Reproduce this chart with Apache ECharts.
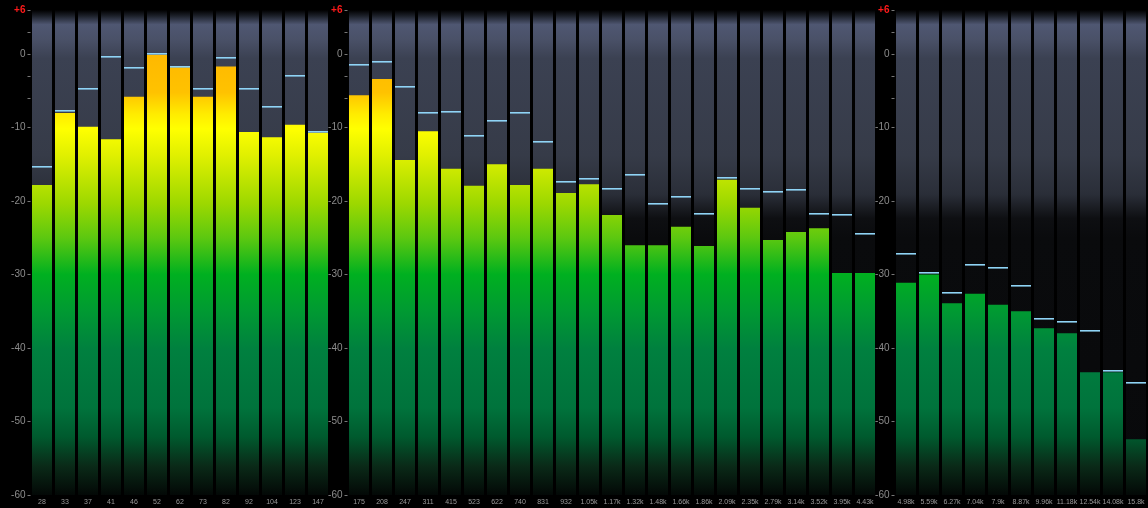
<!DOCTYPE html>
<html>
<head>
<meta charset="utf-8">
<script src="https://cdn.jsdelivr.net/npm/echarts@6/dist/echarts.min.js"></script>
<style>
html,body{margin:0;padding:0;background:#000;}
#chart{width:1148px;height:508px;}
</style>
</head>
<body>
<div id="chart"></div>
<script>
// ---- data ----
const cats1 = ['28','33','37','41','46','52','62','73','82','92','104','123','147'];
const levels1 = [-17.8,-8.0,-9.9,-11.6,-5.8,-0.1,-1.8,-5.8,-1.7,-10.6,-11.3,-9.6,-10.7];
const peaks1  = [-15.3,-7.8,-4.8,-0.4,-1.9,0.0,-1.7,-4.8,-0.5,-4.8,-7.2,-3.0,-10.6];

const cats2 = ['175','208','247','311','415','523','622','740','831','932','1.05k','1.17k','1.32k','1.48k','1.66k','1.86k','2.09k','2.35k','2.79k','3.14k','3.52k','3.95k','4.43k'];
const levels2 = [-5.6,-3.4,-14.4,-10.5,-15.6,-17.9,-15.0,-17.8,-15.6,-18.9,-17.7,-21.9,-26.0,-26.0,-23.5,-26.1,-17.1,-20.9,-25.3,-24.2,-23.7,-29.8,-29.8];
const peaks2  = [-1.5,-1.1,-4.5,-8.0,-7.9,-11.1,-9.1,-8.0,-11.9,-17.4,-17.0,-18.4,-16.4,-20.4,-19.5,-21.7,-16.9,-18.4,-18.7,-18.5,-21.7,-21.9,-24.5];

const cats3 = ['4.98k','5.59k','6.27k','7.04k','7.9k','8.87k','9.96k','11.18k','12.54k','14.08k','15.8k'];
const levels3 = [-31.1,-30.0,-33.9,-32.6,-34.1,-35.0,-37.3,-38.0,-43.3,-43.3,-52.4];
const peaks3  = [-27.2,-29.8,-32.5,-28.7,-29.1,-31.6,-36.1,-36.5,-37.7,-43.1,-44.8];

const yLabelValues = [6,0,-10,-20,-30,-40,-50,-60];
const yTickValues = [6,3,0,-3,-6,-10,-20,-30,-40,-50,-60];
const yMax = 6, yMin = -60;

// ---- styling ----
const barStops = [
  {offset:0, color:'#ffb000'},
  {offset:0.09, color:'#ffb800'},
  {offset:0.17, color:'#ffc200'},
  {offset:0.215, color:'#ffec00'},
  {offset:0.245, color:'#ffff00'},
  {offset:0.30, color:'#e0f000'},
  {offset:0.40, color:'#9cd800'},
  {offset:0.47, color:'#5cc810'},
  {offset:0.545, color:'#00b020'},
  {offset:0.62, color:'#009a32'},
  {offset:0.70, color:'#00803f'},
  {offset:0.82, color:'#00733c'},
  {offset:0.88, color:'#005a2e'},
  {offset:0.94, color:'#0a2a18'},
  {offset:1, color:'#030806'}
];
const bgStops = [
  {offset:0, color:'#000000'},
  {offset:0.012, color:'#1c2029'},
  {offset:0.03, color:'#4f5772'},
  {offset:0.06, color:'#4a5168'},
  {offset:0.10, color:'#3b4152'},
  {offset:0.30, color:'#363b48'},
  {offset:0.38, color:'#2a2e38'},
  {offset:0.43, color:'#0e0f12'},
  {offset:0.47, color:'#0a0b0d'},
  {offset:1, color:'#08090b'}
];

function renderItem(params, api){
  const idx = api.value(0), lvl = api.value(1), pk = api.value(2);
  const pTop = api.coord([idx, yMax]);
  const pBase = api.coord([idx, yMin]);
  const pLvl = api.coord([idx, lvl]);
  const pPk = api.coord([idx, pk]);
  const w = Math.round(api.size([1,0])[0]) - 3;
  const x = Math.round(pTop[0] - w/2);
  const yT = pTop[1], yB = pBase[1];
  return {
    type:'group',
    children:[
      {type:'rect', shape:{x:x, y:yT, width:w, height:yB-yT},
       style:{fill:{type:'linear', x:0, y:yT, x2:0, y2:yB, global:true, colorStops:bgStops}}},
      {type:'rect', shape:{x:x, y:pLvl[1], width:w, height:yB-pLvl[1]},
       style:{fill:{type:'linear', x:0, y:yT, x2:0, y2:yB, global:true, colorStops:barStops}}},
      {type:'rect', shape:{x:x, y:Math.round(pPk[1])-1, width:w, height:1.6},
       style:{fill:'#8fd4f6'}}
    ]
  };
}

const grids = [
  {left:30.5, top:10, width:299, height:485},
  {left:347.5, top:10, width:529, height:485},
  {left:894.5, top:10, width:253, height:485}
];
const catsAll = [cats1, cats2, cats3];
const levelsAll = [levels1, levels2, levels3];
const peaksAll = [peaks1, peaks2, peaks3];

const xAxes = [], yAxes = [], series = [];
for (let g = 0; g < 3; g++) {
  xAxes.push({
    type:'category', gridIndex:g, data:catsAll[g],
    axisLine:{show:false}, axisTick:{show:false}, splitLine:{show:false},
    axisLabel:{color:'#9a9a9a', fontSize:7, fontFamily:'Liberation Sans', margin:4, interval:0}
  });
  yAxes.push({
    type:'value', gridIndex:g, min:yMin, max:yMax,
    axisLine:{show:false}, splitLine:{show:false},
    axisTick:{show:true, length:3, customValues:yTickValues, lineStyle:{color:'#777', width:1}},
    axisLabel:{
      customValues:yLabelValues, margin:5, fontSize:10, fontFamily:'Liberation Sans', color:'#8c8c8c',
      formatter: v => v > 0 ? '{r|+' + v + '}' : String(v),
      rich:{r:{color:'#ff1a1a', fontSize:10, fontFamily:'Liberation Sans', fontWeight:'bold'}}
    }
  });
  series.push({
    type:'custom', xAxisIndex:g, yAxisIndex:g, renderItem:renderItem,
    data: catsAll[g].map((c,i) => [i, levelsAll[g][i], peaksAll[g][i]]),
    animation:false, clip:false
  });
}

const chart = echarts.init(document.getElementById('chart'), null, {renderer:'canvas'});
chart.setOption({
  backgroundColor:'#000',
  animation:false,
  grid:grids,
  xAxis:xAxes,
  yAxis:yAxes,
  series:series
});
</script>
</body>
</html>
